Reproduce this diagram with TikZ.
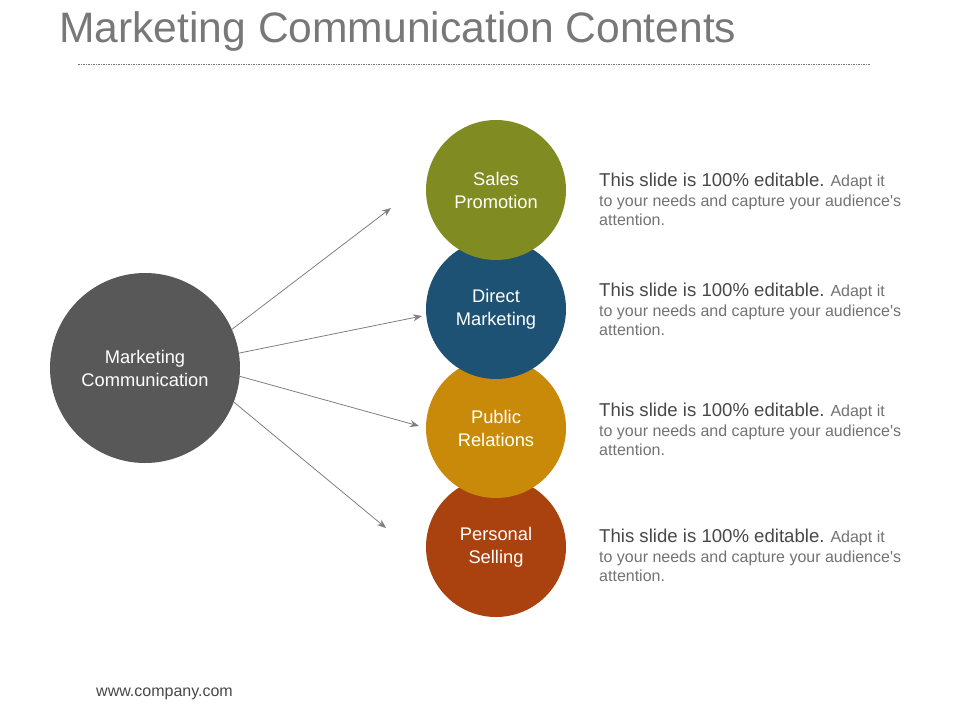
\documentclass[tikz,border=0pt]{standalone}
\usepackage{fontspec}
\setmainfont{Liberation Sans}
\usetikzlibrary{arrows.meta}
\definecolor{titlegray}{RGB}{120,120,120}
\definecolor{darktxt}{RGB}{72,72,72}
\definecolor{lighttxt}{RGB}{115,115,115}
\definecolor{arrowgray}{RGB}{128,128,128}
\definecolor{bigcircle}{RGB}{88,88,88}
\definecolor{salescol}{RGB}{128,140,34}
\definecolor{directcol}{RGB}{30,82,116}
\definecolor{publiccol}{RGB}{201,138,10}
\definecolor{personalcol}{RGB}{170,66,16}
\tikzset{
  ball/.style={circle, minimum size=140pt, inner sep=0pt, text=white, align=center,
    font=\fontsize{18.3}{23}\selectfont},
  bigball/.style={circle, minimum size=190pt, inner sep=0pt, fill=bigcircle, text=white, align=center,
    font=\fontsize{18.3}{23}\selectfont},
  linkarrow/.style={draw=arrowgray, line width=0.8pt, -{Stealth[length=9pt,width=7pt]}},
  desc/.style={anchor=north west, inner sep=0pt, align=left, text=lighttxt,
    font=\fontsize{16}{19.5}\selectfont}
}
\newcommand{\lead}{\textcolor{darktxt}{\fontsize{18.6}{19.5}\selectfont This slide is 100\% editable.}}
\newcommand{\desctext}{\lead{} Adapt it\\to your needs and capture your audience\textquotesingle s\\attention.}
\begin{document}
\begin{tikzpicture}[x=1pt,y=-1pt]
\path[use as bounding box, fill=white] (0,0) rectangle (960,720);
% title
\node[anchor=base west, inner sep=0pt, text=titlegray, font=\fontsize{42.6}{46}\selectfont] (title) at (59,42) {Marketing Communication Contents};
\draw[titlegray, line width=0.6pt, dash pattern=on 1.5pt off 1pt] (78,64) coordinate (rl) -- (870,64) coordinate (rr);
% circles (bottom first so upper overlaps)
\node[ball, fill=personalcol] (personal) at (496,547) {Personal\\Selling};
\node[ball, fill=publiccol] (public) at (496,428) {Public\\Relations};
\node[ball, fill=directcol] (direct) at (496,309) {Direct\\Marketing};
\node[ball, fill=salescol] (sales) at (496,190) {Sales\\Promotion};
\node[bigball] (mc) at (145,368) {Marketing\\Communication};
% arrows
\coordinate (t1) at (391,208);
\coordinate (t2) at (422,316);
\coordinate (t3) at (419,426);
\coordinate (t4) at (386,528);
\draw[linkarrow] (mc.24) -- (t1);
\draw[linkarrow] (mc.9.5) -- (t2);
\draw[linkarrow] (mc.-5.5) -- (t3);
\draw[linkarrow] (mc.-21) -- (t4);
% descriptions
\node[desc] (d1) at (599,173) {\desctext};
\node[desc] (d2) at (599,283) {\desctext};
\node[desc] (d3) at (599,403) {\desctext};
\node[desc] (d4) at (599,529) {\desctext};
% footer
\node[anchor=west, inner sep=0pt, text=darktxt, font=\fontsize{16}{18}\selectfont] (footer) at (96,694) {www.company.com};
\end{tikzpicture}
\end{document}
